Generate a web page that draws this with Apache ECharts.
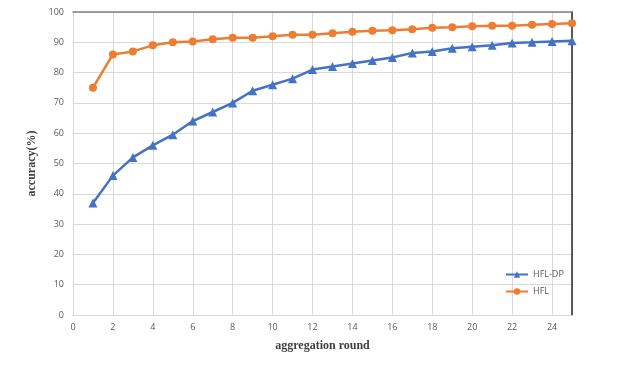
<!DOCTYPE html>
<html lang="en">
<head>
    <meta charset="UTF-8">
    <title>accuracy</title>
    <script src="https://cdn.jsdelivr.net/npm/echarts@6/dist/echarts.min.js"></script>
    <style>
        body { margin: 0; padding: 0; background: #fff; }
        #chart { width: 619px; height: 368px; }
    </style>
</head>
<body>
<div id="chart"></div>
<script>
    // aggregation rounds
    var rounds = [1, 2, 3, 4, 5, 6, 7, 8, 9, 10, 11, 12, 13, 14, 15, 16, 17, 18, 19, 20, 21, 22, 23, 24, 25]
    // accuracy (%) per round
    var hflDp = [37, 46, 52, 56, 59.5, 64, 67, 70, 74, 76, 78, 81, 82, 83, 84, 85, 86.5, 87, 88, 88.5, 89, 89.8, 90, 90.3, 90.5]
    var hfl = [75, 86, 87, 89, 90, 90.3, 91, 91.5, 91.5, 92, 92.5, 92.5, 93, 93.5, 93.8, 94, 94.3, 94.8, 95, 95.3, 95.5, 95.5, 95.8, 96, 96.3]

    function pairs(vals) {
        return rounds.map(function (r, i) { return [r, vals[i]] })
    }

    var labelStyle = { color: '#595959', fontSize: 9, fontFamily: 'Open Sans' }
    var nameStyle = { color: '#404040', fontSize: 12, fontWeight: 'bold', fontFamily: 'Liberation Serif' }
    var gridLine = { lineStyle: { color: '#d9d9d9', width: 1 } }

    var chart = echarts.init(document.getElementById('chart'))
    chart.setOption({
        animation: false,
        grid: { left: 73, right: 47, top: 12, bottom: 53 },
        legend: {
            orient: 'vertical',
            left: 500,
            top: 265,
            itemWidth: 22,
            itemHeight: 8,
            itemGap: 8,
            textStyle: labelStyle,
            data: ['HFL-DP', 'HFL']
        },
        xAxis: [{
            type: 'value',
            min: 0,
            max: 25,
            interval: 2,
            name: 'aggregation round',
            nameLocation: 'middle',
            nameGap: 25,
            nameTextStyle: nameStyle,
            axisLine: { show: true, lineStyle: { color: '#d9d9d9' } },
            axisTick: { show: false },
            axisLabel: Object.assign({ margin: 8, showMaxLabel: false,
                formatter: function (v) { return v === 25 ? '' : v } }, labelStyle),
            splitLine: gridLine
        }, {
            // top border
            type: 'value',
            position: 'top',
            min: 0,
            max: 25,
            axisLine: { show: true, onZero: false, lineStyle: { color: '#808080', width: 1.5 } },
            axisTick: { show: false },
            axisLabel: { show: false },
            splitLine: { show: false }
        }],
        yAxis: [{
            type: 'value',
            min: 0,
            max: 100,
            interval: 10,
            name: 'accuracy(%)',
            nameLocation: 'middle',
            nameGap: 32,
            nameTextStyle: nameStyle,
            axisLine: { show: false },
            axisTick: { show: false },
            axisLabel: Object.assign({ margin: 9 }, labelStyle),
            splitLine: gridLine
        }, {
            // right border
            type: 'value',
            position: 'right',
            min: 0,
            max: 100,
            axisLine: { show: true, onZero: false, lineStyle: { color: '#262626', width: 1.5 } },
            axisTick: { show: false },
            axisLabel: { show: false },
            splitLine: { show: false }
        }],
        series: [{
            name: 'HFL-DP',
            type: 'line',
            data: pairs(hflDp),
            symbol: 'triangle',
            symbolSize: 9,
            color: '#4472C4',
            lineStyle: { width: 2.5 },
            itemStyle: { color: '#4472C4' }
        }, {
            name: 'HFL',
            type: 'line',
            data: pairs(hfl),
            symbol: 'circle',
            symbolSize: 8,
            color: '#ED7D31',
            lineStyle: { width: 2.5 },
            itemStyle: { color: '#ED7D31' }
        }]
    })
</script>
</body>
</html>
